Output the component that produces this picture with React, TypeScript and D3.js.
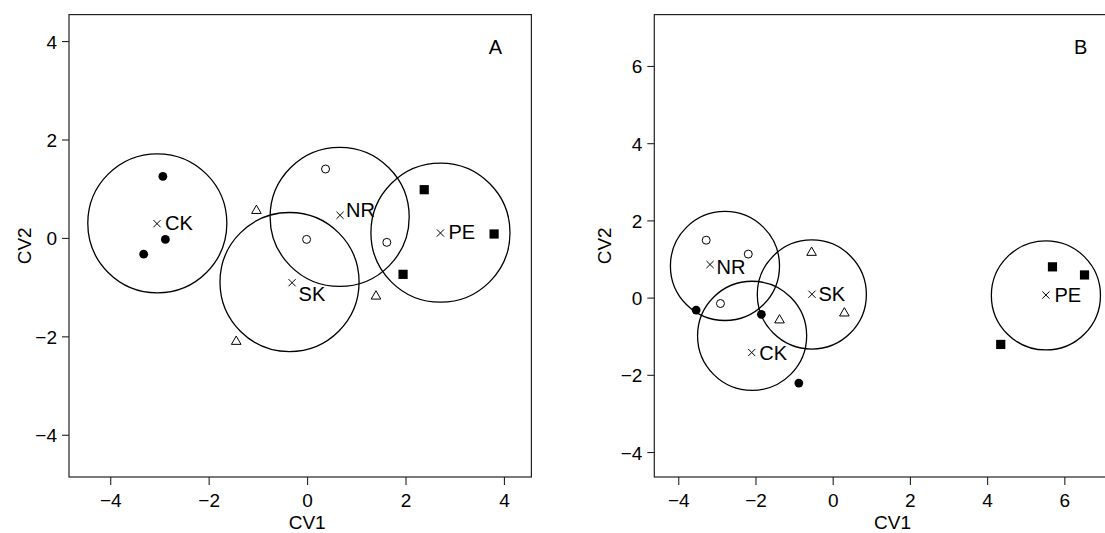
import React from "react";
import * as d3 from "d3";

// ---------- data ----------
const groupNames = ["CK", "NR", "SK", "PE"];
const obsGroup = ["CK", "CK", "CK", "NR", "NR", "NR", "SK", "SK", "SK", "PE", "PE", "PE"];

// Panel A observations
const aCV1 = [-2.94, -2.89, -3.33, 0.365, -0.02, 1.61, -1.04, -1.45, 1.39, 2.37, 3.79, 1.94];
const aCV2 = [1.26, -0.02, -0.32, 1.41, -0.02, -0.08, 0.58, -2.08, -1.16, 0.99, 0.09, -0.73];
// Panel A group markers (x) in order of groupNames
const aMarkCV1 = [-3.06, 0.66, -0.315, 2.7];
const aMarkCV2 = [0.3, 0.47, -0.9, 0.11];

// Panel B observations
const bCV1 = [-3.55, -1.86, -0.89, -3.29, -2.2, -2.92, -0.56, -1.39, 0.29, 5.68, 6.51, 4.34];
const bCV2 = [-0.31, -0.42, -2.2, 1.5, 1.14, -0.14, 1.2, -0.55, -0.37, 0.81, 0.6, -1.2];
const bMarkCV1 = [-3.19, -2.11, -0.55, 5.51];
const bMarkCV2 = [0.87, -1.41, 0.1, 0.08];
const bMarkOrder = ["NR", "CK", "SK", "PE"];

const aTicks = [-4, -2, 0, 2, 4];
const bTicks = [-4, -2, 0, 2, 4, 6];
const aLim = [-4.5, 4.2];
const bLim = [-4.19, 6.9];
const circleRadius = 1.413;

// ---------- layout / style ----------
const FONT = "'Liberation Sans', Arial, Helvetica, sans-serif";
const TOP = 14.6;
const BOTTOM = 477;
const SIZE = BOTTOM - TOP;

type LabelOff = { [k: string]: [number, number] };

const panels = [
  {
    id: "A",
    left: 69,
    lim: aLim,
    ticks: aTicks,
    x: aCV1,
    y: aCV2,
    markNames: groupNames,
    markX: aMarkCV1,
    markY: aMarkCV2,
    labelOff: { CK: [8, 6.5], NR: [6, 1.5], SK: [6.5, 18.5], PE: [8, 6] } as LabelOff,
    cv2X: 30.5,
  },
  {
    id: "B",
    left: 654.3,
    lim: bLim,
    ticks: bTicks,
    x: bCV1,
    y: bCV2,
    markNames: bMarkOrder,
    markX: bMarkCV1,
    markY: bMarkCV2,
    labelOff: { CK: [7.5, 7], NR: [6.5, 9], SK: [6.5, 7], PE: [8.5, 6.5] } as LabelOff,
    cv2X: 611,
  },
];

function Marker({ g, cx, cy }: { g: string; cx: number; cy: number }) {
  if (g === "CK") return <circle cx={cx} cy={cy} r={4.4} fill="#000" />;
  if (g === "NR") return <circle cx={cx} cy={cy} r={4} fill="none" stroke="#000" strokeWidth={1} />;
  if (g === "PE") return <rect x={cx - 4.6} y={cy - 4.6} width={9.2} height={9.2} fill="#000" />;
  const tri = d3.symbol(d3.symbolTriangle, 40)() as string;
  return <path d={tri} transform={`translate(${cx},${cy + 0.8})`} fill="none" stroke="#000" strokeWidth={1} />;
}

function Panel({ p }: { p: (typeof panels)[number] }) {
  const pad = (p.lim[1] - p.lim[0]) * 0.04;
  const dom = [p.lim[0] - pad, p.lim[1] + pad];
  const right = p.left + SIZE;
  const x = d3.scaleLinear().domain(dom).range([p.left, right]);
  const y = d3.scaleLinear().domain(dom).range([BOTTOM, TOP]);
  const rx = x(circleRadius) - x(0);
  const ry = y(0) - y(circleRadius);

  const centers = groupNames.map((g) => {
    const idx = obsGroup.map((og, i) => (og === g ? i : -1)).filter((i) => i >= 0);
    return {
      g,
      cx: d3.mean(idx, (i) => p.x[i]) as number,
      cy: d3.mean(idx, (i) => p.y[i]) as number,
    };
  });

  const mid = (p.left + right) / 2;

  return (
    <g>
      {/* frame */}
      <rect x={p.left} y={TOP} width={SIZE} height={SIZE} fill="none" stroke="#222" strokeWidth={1.2} />
      {/* x ticks */}
      {p.ticks.map((t) => (
        <g key={"xt" + t}>
          <line x1={x(t)} x2={x(t)} y1={BOTTOM} y2={BOTTOM + 8} stroke="#222" strokeWidth={1.1} />
          <text x={x(t)} y={BOTTOM + 30} textAnchor="middle" fontSize={19} fontFamily={FONT} fill="#000">
            {t < 0 ? "\u2212" + Math.abs(t) : String(t)}
          </text>
        </g>
      ))}
      {/* y ticks */}
      {p.ticks.map((t) => (
        <g key={"yt" + t}>
          <line x1={p.left - 7} x2={p.left} y1={y(t)} y2={y(t)} stroke="#222" strokeWidth={1.1} />
          <text x={p.left - 12} y={y(t) + 7} textAnchor="end" fontSize={19} fontFamily={FONT} fill="#000">
            {t < 0 ? "\u2212" + Math.abs(t) : String(t)}
          </text>
        </g>
      ))}
      {/* axis titles */}
      <text x={mid + 7} y={529} textAnchor="middle" fontSize={19} fontFamily={FONT} fill="#000">
        CV1
      </text>
      <text
        transform={`translate(${p.cv2X},${(TOP + BOTTOM) / 2}) rotate(-90)`}
        textAnchor="middle"
        fontSize={19}
        fontFamily={FONT}
        fill="#000"
      >
        CV2
      </text>
      {/* panel letter */}
      <text x={right - 36} y={54} textAnchor="middle" fontSize={20} fontFamily={FONT} fill="#000">
        {p.id}
      </text>
      {/* confidence circles */}
      {centers.map((c) => (
        <ellipse
          key={"c" + c.g}
          cx={x(c.cx)}
          cy={y(c.cy)}
          rx={rx}
          ry={ry}
          fill="none"
          stroke="#000"
          strokeWidth={1.3}
        />
      ))}
      {/* observations */}
      {p.x.map((v, i) => (
        <Marker key={"o" + i} g={obsGroup[i]} cx={x(v)} cy={y(p.y[i])} />
      ))}
      {/* group markers and labels */}
      {p.markNames.map((g, i) => {
        const mx = x(p.markX[i]);
        const my = y(p.markY[i]);
        const off = p.labelOff[g];
        const s = 3.6;
        return (
          <g key={"m" + g}>
            <path
              d={`M${mx - s},${my - s}L${mx + s},${my + s}M${mx - s},${my + s}L${mx + s},${my - s}`}
              stroke="#000"
              strokeWidth={1}
            />
            <text x={mx + off[0]} y={my + off[1]} fontSize={20} fontFamily={FONT} fill="#000">
              {g}
            </text>
          </g>
        );
      })}
    </g>
  );
}

export default function App() {
  return (
    <div style={{ position: "fixed", left: 0, top: 0 }}>
      <svg width={1105} height={533} style={{ display: "block", background: "#fff" }}>
        <rect x={0} y={0} width={1105} height={533} fill="#fff" />
        {panels.map((p) => (
          <Panel key={p.id} p={p} />
        ))}
      </svg>
    </div>
  );
}
